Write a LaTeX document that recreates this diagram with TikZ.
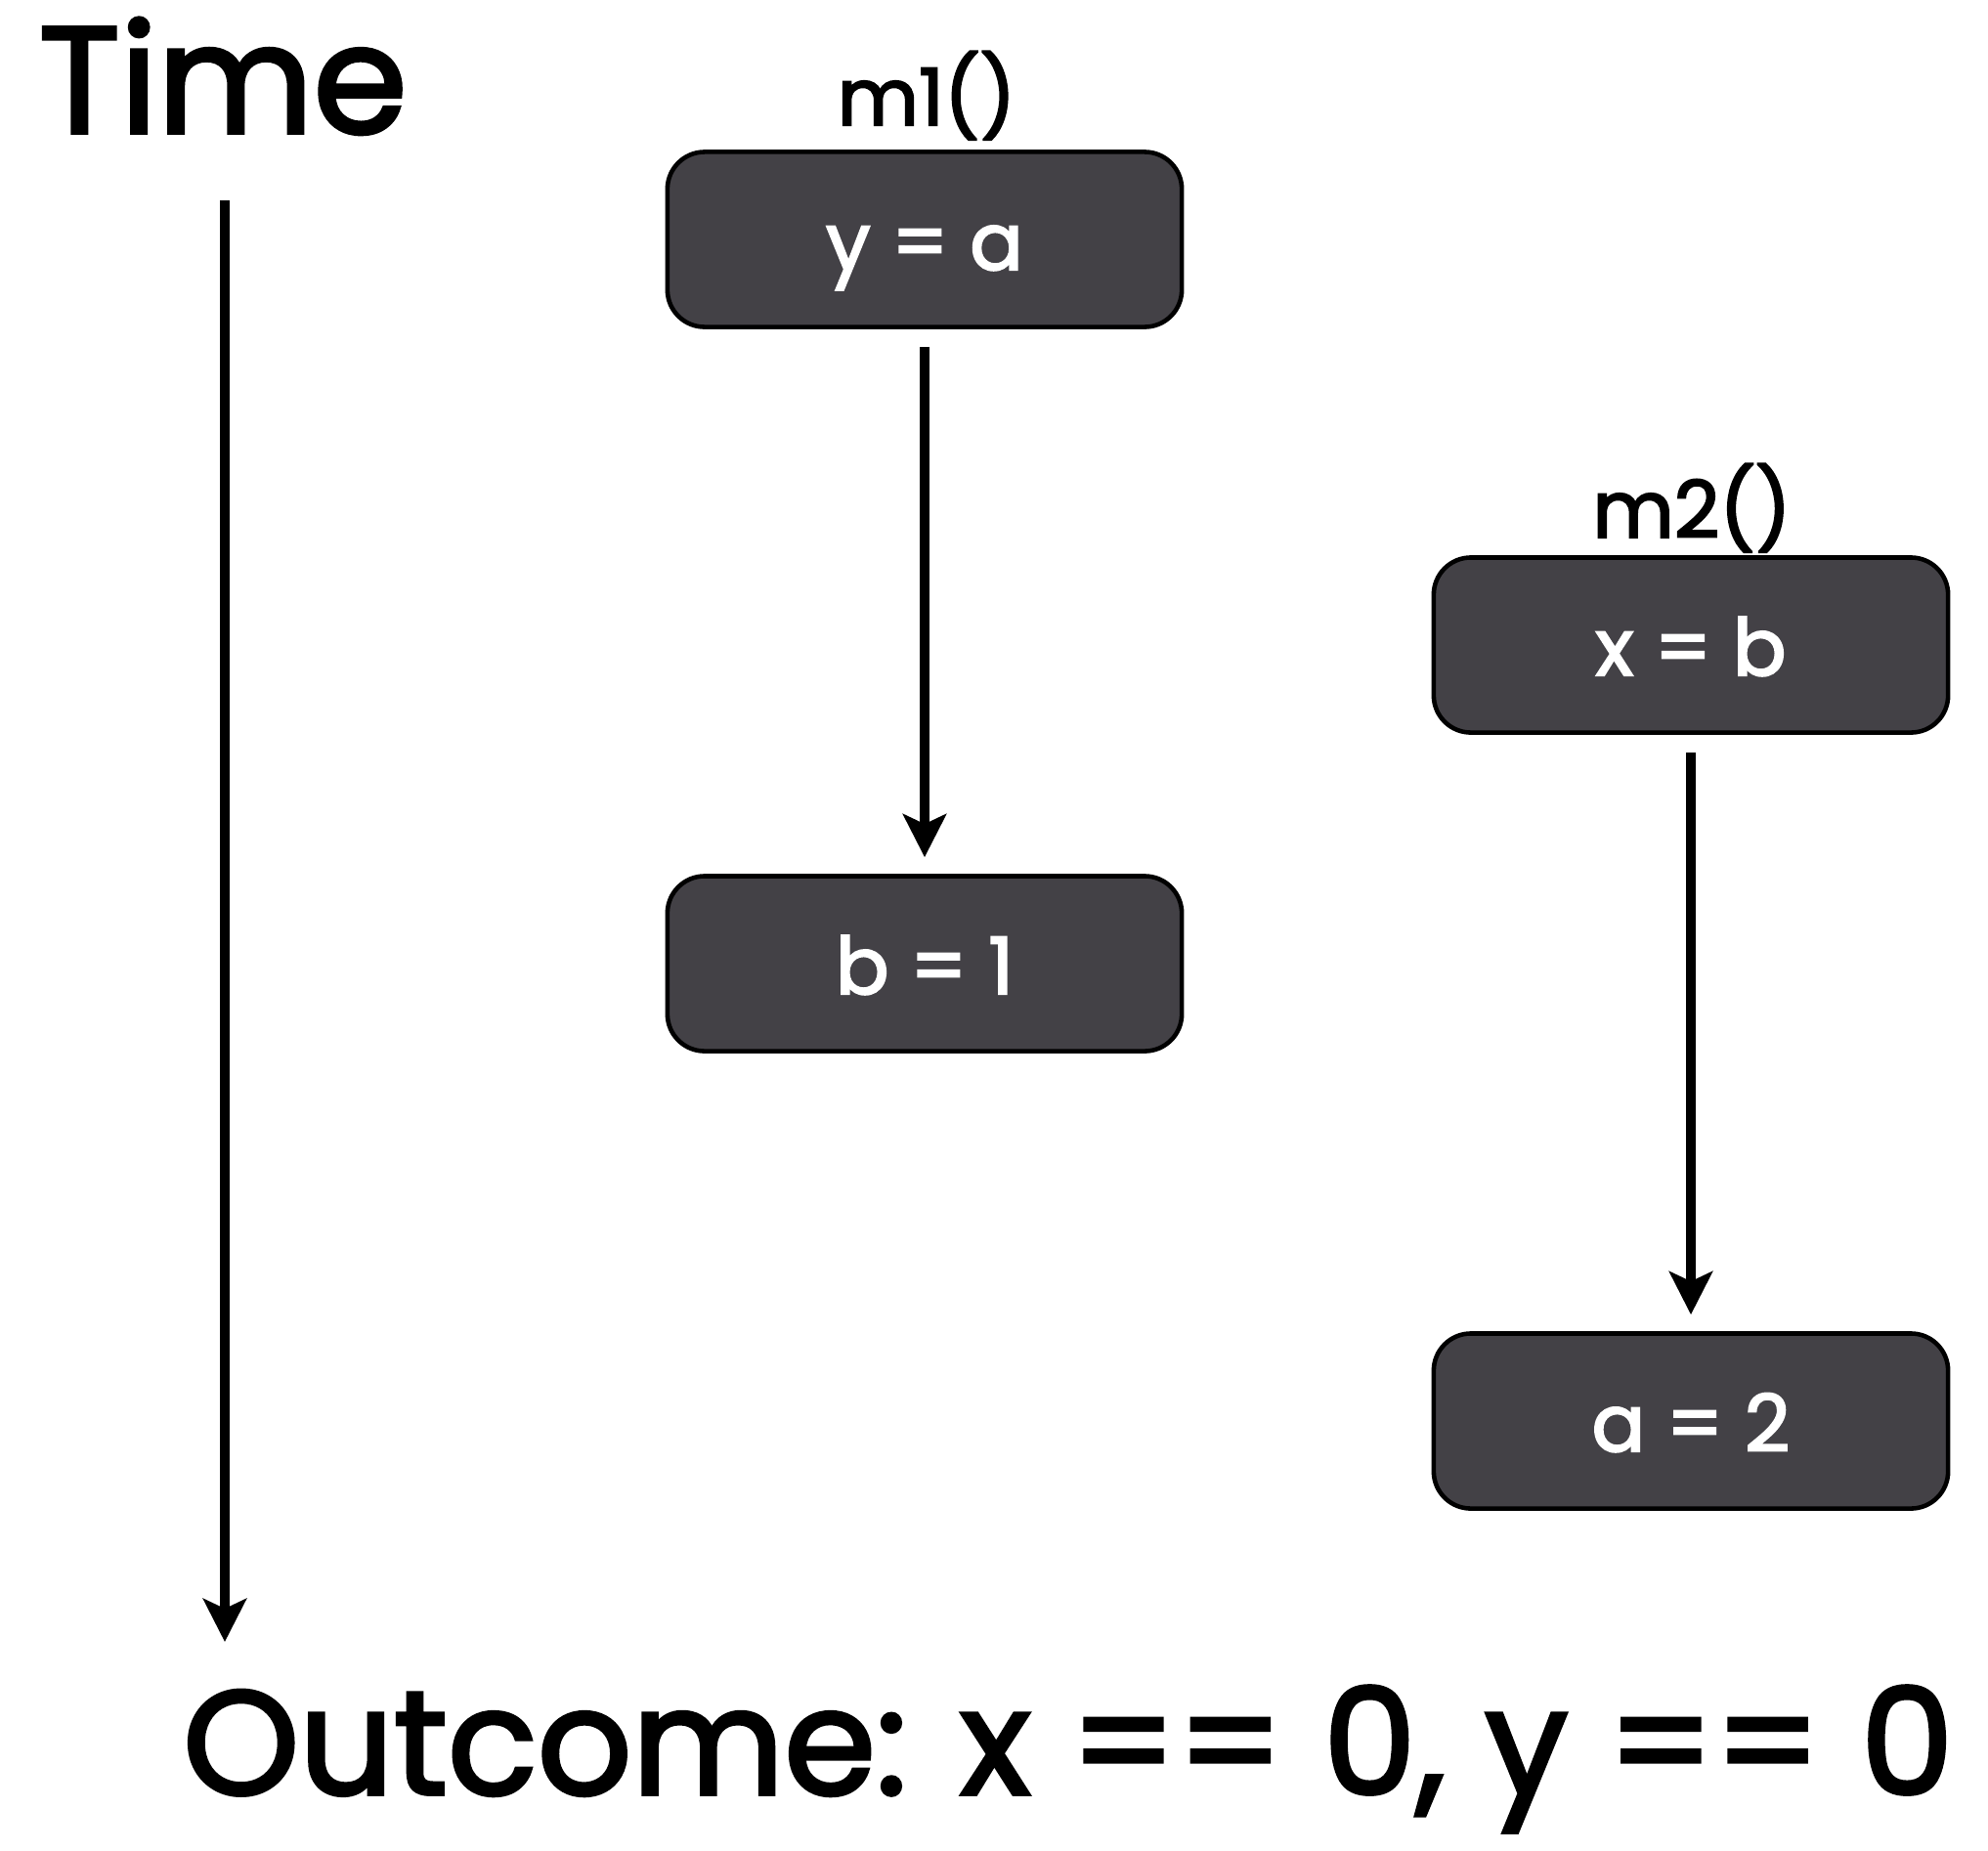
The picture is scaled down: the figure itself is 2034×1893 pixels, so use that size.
\documentclass[tikz,border=0pt]{standalone}
\usepackage{fontspec}
\setmainfont{Poppins}[FakeBold=2.5]
\definecolor{boxgray}{RGB}{67,65,70}
\usetikzlibrary{arrows.meta,positioning}

\begin{document}
\begin{tikzpicture}[x=0.01cm, y=-0.01cm,
        box/.style={rectangle, rounded corners=0.38cm, minimum width=5.26cm, minimum height=1.79cm,
          draw=black, line width=1.3pt, fill=boxgray, text=white, text height=0.78cm, text depth=0.16cm,
          font=\fontsize{23}{26}\selectfont},
        lbl/.style={inner sep=0pt, anchor=base, font=\fontsize{23}{26}\selectfont},
        big/.style={inner sep=0pt, anchor=base, font=\fontsize{44}{48}\selectfont},
        arr/.style={-{Stealth[length=0.44cm, width=0.44cm, inset=0.1cm]}, line width=2.6pt,
          shorten <=0.18cm, shorten >=0.17cm}
      ]
        \useasboundingbox (0,0) rectangle (2034,1893);

        % time axis
        \node[big] (time) at (228,136) {Time};
        \coordinate (tstart) at (230,205);
        \coordinate (tend)   at (230,1680);
        \draw[arr, shorten <=0pt, shorten >=0pt] (tstart) -- (tend);

        % first method
        \node[lbl] (m1) at (948,128) {m1()};
        \node[box] (ya) at (946,245) {y = a};
        \node[box] (b1) at (946,986) {b = 1};
        \draw[arr] (ya) -- (b1);

        % second method
        \node[lbl] (m2) at (1731,550) {m2()};
        \node[box] (xb) at (1730,660)  {x = b};
        \node[box] (a2) at (1730,1454) {a = 2};
        \draw[arr] (xb) -- (a2);

        \node[big, font=\fontsize{43}{47}\selectfont] (outcome) at (1093,1836) {Outcome: x == 0, y == 0};
      \end{tikzpicture}
\end{document}
